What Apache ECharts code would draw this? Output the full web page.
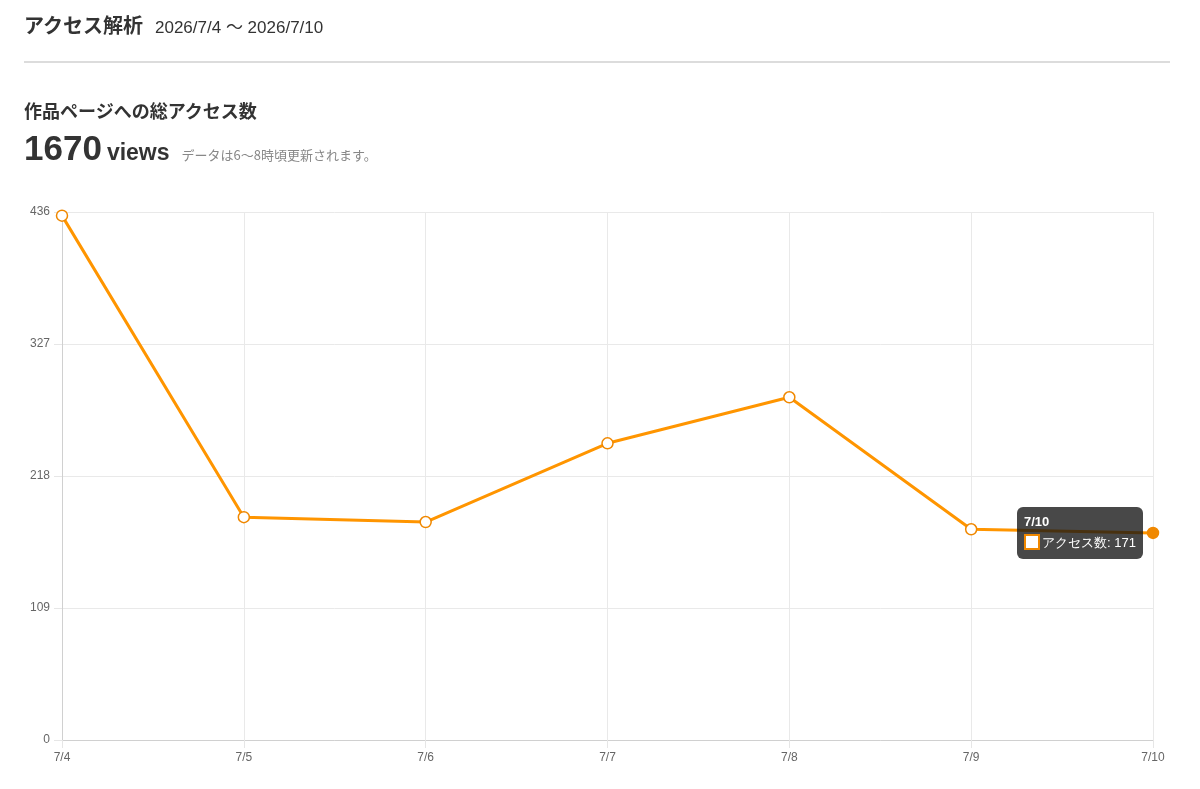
<!DOCTYPE html>
<html>
<head>
<meta charset="utf-8">
<script src="https://cdn.jsdelivr.net/npm/echarts@6/dist/echarts.min.js"></script>
<style>
  html, body { margin: 0; padding: 0; background: #fff; }
  body { width: 1200px; height: 789px; position: relative; overflow: hidden;
         font-family: "Noto Sans CJK JP", "Noto Sans", sans-serif; color: #333; }
  #head { position: absolute; left: 24px; top: 10px; white-space: nowrap; }
  #head .t { font-size: 20px; font-weight: bold; }
  #head .d { font-size: 17px; margin-left: 12px; font-family: "Liberation Sans", "Noto Sans CJK JP", sans-serif; }
  #rule { position: absolute; left: 24px; top: 61px; width: 1146px; height: 2px; background: #dcdcdc; }
  #sub { position: absolute; left: 24px; top: 97px; font-size: 18px; font-weight: bold; }
  #total { position: absolute; left: 24px; top: 128px; white-space: nowrap; }
  #total .n { font-size: 35px; font-weight: bold; font-family: "Liberation Sans", "Noto Sans", sans-serif; }
  #total .v { font-size: 23px; font-weight: bold; font-family: "Liberation Sans", "Noto Sans", sans-serif; margin-left: 5px; }
  #total .note { font-size: 13px; color: #888; margin-left: 12px; }
  #chart { position: absolute; left: 0; top: 0; width: 1200px; height: 789px; }
</style>
</head>
<body>
<div id="chart"></div>
<div id="head"><span class="t">アクセス解析</span><span class="d">2026/7/4 ～ 2026/7/10</span></div>
<div id="rule"></div>
<div id="sub">作品ページへの総アクセス数</div>
<div id="total"><span class="n">1670</span><span class="v">views</span><span class="note">データは6～8時頃更新されます。</span></div>
<script>
var days = ['7/4', '7/5', '7/6', '7/7', '7/8', '7/9', '7/10'];
var views = [433, 184, 180, 245, 283, 174, 171];
var yTicks = [0, 109, 218, 327, 436];
var seriesName = 'アクセス数';
var orange = '#f08800';

var myChart = echarts.init(document.getElementById('chart'));
myChart.setOption({
  animation: false,
  grid: { left: 62, right: 47, top: 212, bottom: 49 },
  tooltip: {
    trigger: 'item',
    triggerOn: 'none',
    alwaysShowContent: true,
    backgroundColor: 'rgba(20,20,20,0.78)',
    borderWidth: 0,
    padding: [6, 7],
    extraCssText: 'border-radius:6px;box-shadow:none;',
    position: function () { return [1017, 507]; },
    formatter: function (p) {
      return '<div style="color:#fff;font-size:13px;font-weight:bold;line-height:17px;font-family:Liberation Sans,sans-serif">' + p.name + '</div>' +
        '<div style="color:#fff;font-size:13px;line-height:20px;margin-top:3px;white-space:nowrap">' +
        '<span style="display:inline-block;width:12px;height:12px;background:#fff;border:2px solid ' + orange + ';vertical-align:-3px;margin-right:2px"></span>' +
        p.seriesName + ': ' + p.value + '</div>';
    }
  },
  xAxis: {
    type: 'category',
    data: days,
    boundaryGap: false,
    axisLine: { lineStyle: { color: '#d0d0d0' } },
    axisTick: { show: true, length: 8, lineStyle: { color: '#e6e6e6' } },
    splitLine: { show: true, lineStyle: { color: '#e9e9e9' } },
    axisLabel: { color: '#666', fontSize: 12, margin: 12, fontFamily: 'Liberation Sans, sans-serif' }
  },
  yAxis: {
    type: 'value',
    min: yTicks[0],
    max: yTicks[yTicks.length - 1],
    interval: yTicks[1] - yTicks[0],
    axisLine: { show: true, lineStyle: { color: '#d0d0d0' } },
    axisTick: { show: true, length: 8, lineStyle: { color: '#e6e6e6' } },
    splitLine: { show: true, lineStyle: { color: '#e9e9e9' } },
    axisLabel: { color: '#666', fontSize: 12, margin: 12, fontFamily: 'Liberation Sans, sans-serif' }
  },
  series: [{
    name: seriesName,
    type: 'line',
    data: views,
    symbol: 'circle',
    symbolSize: 11,
    lineStyle: { color: orange, width: 3 },
    itemStyle: { color: '#fff', borderColor: orange, borderWidth: 1.5 },
    emphasis: { scale: false, itemStyle: { color: orange, borderColor: orange }, lineStyle: { width: 3 } }
  }]
});

var last = views.length - 1;
myChart.dispatchAction({ type: 'highlight', seriesIndex: 0, dataIndex: last });
myChart.dispatchAction({ type: 'showTip', seriesIndex: 0, dataIndex: last });
</script>
</body>
</html>
